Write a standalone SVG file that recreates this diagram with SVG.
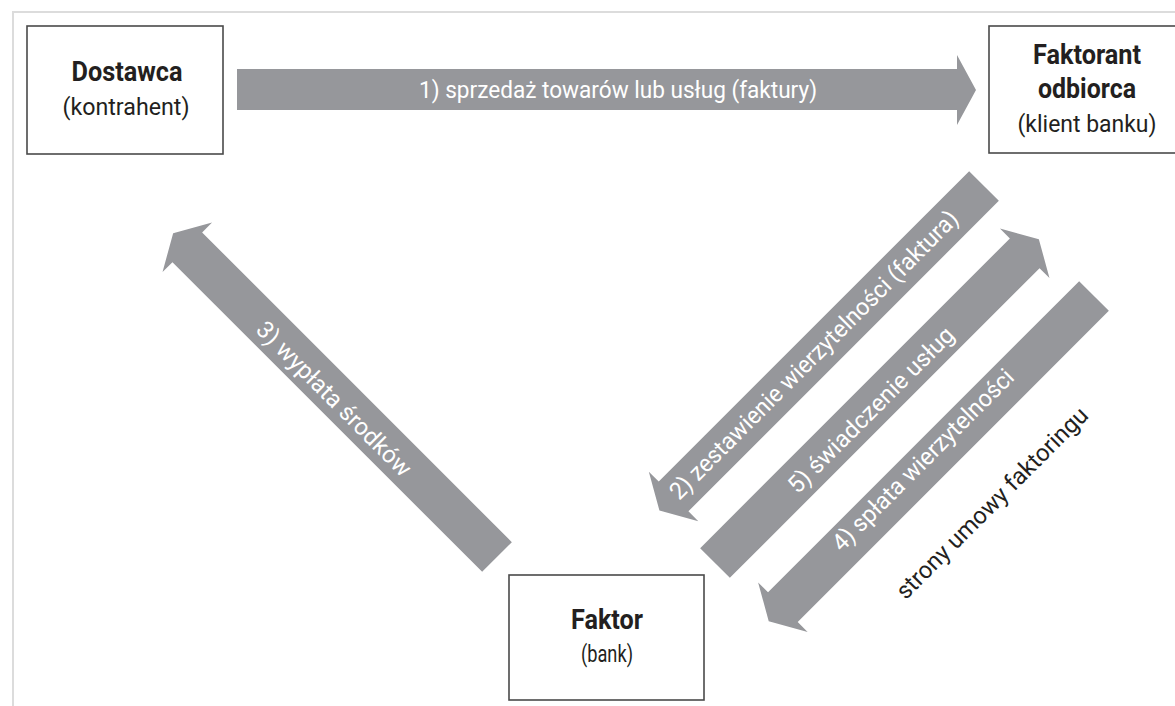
<svg xmlns="http://www.w3.org/2000/svg" width="1175" height="706" viewBox="0 0 1175 706">
<style>
.bg{fill:#ffffff}
.frame{fill:none;stroke:#dcdcdc;stroke-width:2}
.box{fill:#ffffff;stroke:#4a4a4a;stroke-width:1.6}
.t{font-family:Roboto,"Liberation Sans",sans-serif;fill:#231f20;text-anchor:middle}
.b{font-weight:bold;font-size:28px}
.r{font-size:24px}
.arr{fill:#96979b}
.lab{font-family:Roboto,"Liberation Sans",sans-serif;font-size:24px;fill:#ffffff;text-anchor:middle}
.dark{font-family:Roboto,"Liberation Sans",sans-serif;font-size:24px;fill:#231f20;text-anchor:middle}
</style>
<rect class="bg" x="0" y="0" width="1175" height="706"/>
<path class="frame" d="M13,706 L13,12 L1175,12"/>

<g id="connectors">
  <g id="arrow1">
    <path class="arr" d="M237,69 L957,69 L957,55 L976,90 L957,125 L957,110 L237,110 Z"/>
    <text class="lab" x="618" y="98" textLength="398" lengthAdjust="spacingAndGlyphs">1) sprzedaż towarów lub usług (faktury)</text>
  </g>
  <g id="arrow2">
    <path class="arr" transform="translate(984,186) rotate(135)" d="M0,-21 L439,-21 L439,-35 L459,0 L439,35 L439,21 L0,21 Z"/>
    <text class="lab" transform="translate(814,355) rotate(-45)" x="0" y="8" textLength="397" lengthAdjust="spacingAndGlyphs">2) zestawienie wierzytelności (faktura)</text>
  </g>
  <g id="arrow3">
    <path class="arr" transform="translate(497,557) rotate(225)" d="M0,-21 L438,-21 L438,-35 L458,0 L438,35 L438,21 L0,21 Z"/>
    <text class="lab" transform="translate(334,399) rotate(45)" x="0" y="8" textLength="208" lengthAdjust="spacingAndGlyphs">3) wypłata środków</text>
  </g>
  <g id="arrow4">
    <path class="arr" transform="translate(1094,296) rotate(135)" d="M0,-21 L440,-21 L440,-35 L460,0 L440,35 L440,21 L0,21 Z"/>
    <text class="lab" transform="translate(923,460) rotate(-45)" x="0" y="8" textLength="246" lengthAdjust="spacingAndGlyphs">4) spłata wierzytelności</text>
  </g>
  <g id="arrow5">
    <path class="arr" transform="translate(715,563) rotate(-45)" d="M0,-21 L438,-21 L438,-35 L458,0 L438,35 L438,21 L0,21 Z"/>
    <text class="lab" transform="translate(871,410) rotate(-45)" x="0" y="8" textLength="224" lengthAdjust="spacingAndGlyphs">5) świadczenie usług</text>
  </g>
  <text class="dark" transform="translate(992,503) rotate(-45)" x="0" y="8" textLength="260" lengthAdjust="spacingAndGlyphs">strony umowy faktoringu</text>
</g>

<g id="node-dostawca">
  <rect class="box" x="27" y="26" width="196" height="128"/>
  <text class="t b" x="127" y="81" textLength="111" lengthAdjust="spacingAndGlyphs">Dostawca</text>
  <text class="t r" x="126" y="115" textLength="127" lengthAdjust="spacingAndGlyphs">(kontrahent)</text>
</g>

<g id="node-faktorant">
  <rect class="box" x="989" y="26" width="200" height="127"/>
  <text class="t b" x="1087" y="64" textLength="108" lengthAdjust="spacingAndGlyphs">Faktorant</text>
  <text class="t b" x="1087" y="98" textLength="98" lengthAdjust="spacingAndGlyphs">odbiorca</text>
  <text class="t r" x="1087" y="132" textLength="139" lengthAdjust="spacingAndGlyphs">(klient banku)</text>
</g>

<g id="node-faktor">
  <rect class="box" x="509" y="575" width="195" height="125"/>
  <text class="t b" x="607" y="629" textLength="72" lengthAdjust="spacingAndGlyphs">Faktor</text>
  <text class="t r" x="607" y="662" textLength="52" lengthAdjust="spacingAndGlyphs">(bank)</text>
</g>
</svg>
